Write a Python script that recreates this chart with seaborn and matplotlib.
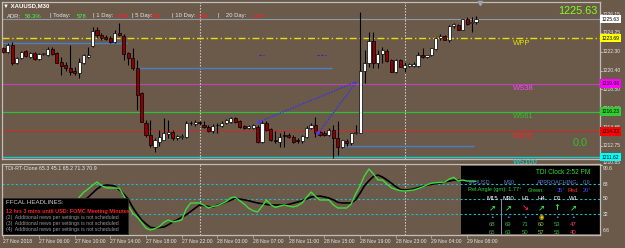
import matplotlib
matplotlib.use("Agg")
import matplotlib.pyplot as plt
import matplotlib.transforms as mtrans
from matplotlib.patches import Rectangle
import numpy as np
import seaborn as sns

# ==============================================
# Data
# ==============================================
opens = [1222.7, 1222.3, 1223.0, 1221.2, 1221.7, 1222.4, 1221.8, 1222.2, 1221.6, 1222.1,
         1222.0, 1222.6, 1222.2, 1221.3, 1221.0, 1220.7, 1220.4, 1220.2, 1221.2, 1221.8,
         1222.9, 1224.5, 1224.0, 1223.8, 1223.7, 1223.3, 1224.2, 1223.9, 1222.2, 1221.7,
         1220.7, 1218.1, 1215.1, 1213.9, 1212.6, 1213.1, 1213.4, 1214.0, 1214.2, 1213.6,
         1213.65, 1213.65, 1215.1, 1214.95, 1215.2, 1214.9, 1214.7, 1214.3, 1214.85, 1214.8,
         1215.1, 1215.2, 1215.6, 1215.3, 1214.8, 1214.6, 1214.6, 1214.7, 1213.1, 1215.1,
         1214.5, 1213.3, 1213.1, 1213.85, 1213.85, 1213.65, 1213.4, 1213.25, 1213.65, 1214.55,
         1214.85, 1214.15, 1214.05, 1213.85, 1214.35, 1213.55, 1212.6, 1213.25, 1213.05, 1214.05,
         1214.05, 1220.35, 1221.15, 1223.4, 1221.15, 1222.1, 1222.4, 1221.5, 1220.25, 1221.5,
         1220.65, 1220.9, 1220.9, 1220.9, 1222.0, 1221.8, 1222.0, 1222.6, 1223.7, 1223.9,
         1223.5, 1224.9, 1225.0, 1224.5, 1225.6, 1225.2, 1225.35]
highs = [1222.8, 1223.2, 1223.3, 1221.8, 1222.4, 1222.5, 1222.3, 1222.3, 1222.2, 1222.2,
         1222.8, 1222.8, 1222.3, 1221.8, 1221.3, 1223.0, 1220.8, 1221.7, 1222.1, 1222.8,
         1224.8, 1224.8, 1224.2, 1224.0, 1223.9, 1224.5, 1225.2, 1224.1, 1222.3, 1222.7,
         1221.5, 1218.2, 1215.4, 1215.4, 1213.6, 1214.4, 1215.6, 1215.4, 1214.4, 1213.9,
         1213.95, 1215.3, 1215.3, 1215.4, 1215.3, 1215.3, 1214.9, 1215.0, 1215.1, 1215.3,
         1215.5, 1215.7, 1215.7, 1215.4, 1214.9, 1214.9, 1215.0, 1214.9, 1215.3, 1215.3,
         1214.6, 1214.3, 1214.1, 1214.3, 1214.05, 1213.85, 1213.6, 1213.85, 1214.8, 1215.1,
         1215.7, 1214.25, 1214.25, 1214.55, 1214.9, 1215.3, 1213.35, 1213.45, 1214.05, 1214.85,
         1226.35, 1222.5, 1224.3, 1224.3, 1222.5, 1222.8, 1222.6, 1221.6, 1221.6, 1221.6,
         1221.3, 1221.2, 1221.3, 1222.3, 1222.7, 1222.0, 1222.7, 1223.8, 1224.1, 1224.0,
         1225.0, 1225.2, 1225.1, 1225.6, 1225.85, 1225.85, 1225.95]
lows = [1222.2, 1222.2, 1221.0, 1221.1, 1221.6, 1221.8, 1221.7, 1221.5, 1221.5, 1222.0,
        1221.9, 1222.0, 1221.2, 1220.0, 1220.4, 1219.95, 1220.0, 1219.6, 1221.1, 1221.7,
        1222.8, 1223.8, 1223.5, 1223.5, 1223.2, 1223.2, 1223.9, 1221.5, 1221.0, 1220.5,
        1216.4, 1215.2, 1213.7, 1212.6, 1212.1, 1212.7, 1213.3, 1213.6, 1213.3, 1213.4,
        1213.45, 1213.55, 1214.9, 1214.8, 1214.9, 1214.6, 1214.2, 1214.1, 1214.05, 1214.7,
        1215.0, 1215.1, 1215.1, 1214.6, 1214.5, 1214.5, 1214.5, 1213.0, 1213.0, 1214.3,
        1213.2, 1213.0, 1212.6, 1212.6, 1213.55, 1213.0, 1213.0, 1213.0, 1213.55, 1214.45,
        1213.65, 1213.75, 1213.75, 1213.75, 1211.5, 1211.8, 1212.5, 1212.7, 1212.85, 1213.95,
        1214.05, 1219.1, 1220.8, 1220.7, 1220.7, 1221.2, 1221.3, 1220.25, 1220.15, 1220.8,
        1220.25, 1220.8, 1220.8, 1220.8, 1221.7, 1221.7, 1221.9, 1222.5, 1223.5, 1223.5,
        1223.3, 1224.7, 1224.5, 1224.5, 1225.0, 1224.3, 1225.1]
closes = [1222.3, 1223.0, 1221.2, 1221.7, 1222.3, 1221.9, 1222.2, 1221.6, 1222.1, 1222.15,
          1222.6, 1222.1, 1221.2, 1220.9, 1220.7, 1220.3, 1220.2, 1221.3, 1222.0, 1222.0,
          1224.4, 1224.0, 1223.7, 1223.6, 1223.3, 1224.2, 1224.0, 1222.1, 1221.7, 1220.7,
          1217.9, 1215.2, 1213.9, 1212.8, 1213.3, 1213.7, 1214.1, 1214.2, 1213.6, 1213.75,
          1213.75, 1215.1, 1215.05, 1215.2, 1215.1, 1214.7, 1214.3, 1214.8, 1214.9, 1215.1,
          1215.4, 1215.6, 1215.2, 1214.7, 1214.6, 1214.8, 1214.9, 1213.1, 1215.1, 1214.4,
          1213.3, 1213.2, 1213.7, 1213.8, 1213.65, 1213.1, 1213.2, 1213.75, 1214.55, 1214.85,
          1214.05, 1213.85, 1213.85, 1214.35, 1213.55, 1212.6, 1213.35, 1213.05, 1214.05, 1214.15,
          1220.35, 1221.15, 1223.4, 1221.15, 1222.1, 1222.5, 1221.4, 1220.25, 1221.5, 1220.8,
          1221.0, 1221.05, 1221.05, 1222.0, 1221.8, 1222.0, 1222.7, 1223.7, 1223.9, 1223.5,
          1224.9, 1225.1, 1224.5, 1225.6, 1225.1, 1225.35, 1225.63]

# TDI sub-window: green price line and black signal line, one value per bar
tdi_green = [42, 40, 35, 33, 36, 40, 42, 41, 43, 44,
             46, 44, 40, 38, 36, 38, 44, 52, 58, 62,
             66.5, 70.4, 66, 63.5, 63.2, 63.2, 63.0, 54, 42, 33,
             28.4, 22, 15, 12.8, 14.5, 17, 22, 24.8, 22.4, 23.5,
             24.8, 38, 45.2, 45.2, 45.2, 42.5, 39.2, 41, 42, 44.5,
             47, 51.5, 52.4, 48, 44, 39, 36, 34.4, 41, 48.8,
             43, 40, 41.5, 42.8, 41.5, 40.4, 42, 45.2, 52, 58.4,
             53, 48.8, 48.8, 48.8, 43, 39.2, 39.2, 39.2, 44, 56,
             66, 78, 86, 80, 72.8, 72.8, 68, 63.5, 61.5, 60,
             59.6, 60.2, 60.8, 62.5, 64.4, 67, 69, 69.5, 70, 70.4,
             74, 76, 71.6, 72.8, 71.6, 71.5, 71.3]
tdi_black = [40, 39, 38, 36, 35, 36, 38, 40, 41, 42,
             43, 44, 43, 41, 39, 38, 40, 45, 48, 52,
             57, 62, 65.5, 66.8, 66.5, 65.6, 61, 56, 50, 40,
             32, 25, 20, 16, 15.2, 15.8, 16.4, 19, 22.4, 25,
             28, 31, 35, 39, 42.8, 42, 41, 40.4, 42.5, 44.5,
             46.4, 48.5, 51, 50, 49, 48, 46.5, 45.2, 44.5, 43.5,
             42.8, 42.8, 42.8, 42.8, 43.5, 45, 46.4, 48, 50, 52.4,
             53, 53.6, 52.5, 51.2, 49, 46, 45.2, 45.2, 45.2, 49,
             57, 66, 72, 77, 78.8, 76.4, 73, 69, 65, 61.5,
             60.8, 61.2, 62, 63.5, 65, 66.5, 67.5, 68.5, 69.2, 70.5,
             71.6, 72.5, 72.5, 71.6, 71.3, 71.2, 71]
tdi_levels = [68, 50, 32]
tdi_tick_labels = ["90.6", "68", "50", "32", "6.6"]
tdi_tick_spots = [86, 68, 50, 32, 11.6]   # where MT4 prints the scale labels

# weekly pivot levels
level_names = ["WPP", "WS38", "WS61", "WS78", "WS100"]
level_prices = [1223.69, 1219.08, 1216.23, 1214.23, 1211.62]
level_line_colors = ["#e6e000", "#c040c0", "#32c032", "#d02828", "#20c8c8"]
level_text_colors = ["#e6e000", "#ff40ff", "#32c032", "#ff2020", "#20d8d8"]
level_box_colors = ["#ffff00", "#ff00ff", "#32cd32", "#ff0000", "#00ffff"]
bid_price = 1225.63
price_ticks = [1226.15, 1224.25, 1222.30, 1220.40, 1218.50, 1216.60, 1214.65, 1212.75, 1210.85]

# other chart objects (bar index, price)
segment_prices = [1223.23, 1220.66, 1212.74]
segment_starts = [0, 30, 76.2]
segment_ends = [27.7, 73.7, 105.5]
trend_starts = [(57.4, 1215.21), (70.6, 1214.03)]
trend_end = (79.2, 1219.27)
dash_marks = [(57.3, 58.4, 1221.98), (70.3, 72.3, 1221.98)]

time_labels = ["27 Nov 2018", "27 Nov 06:00", "27 Nov 10:00", "27 Nov 14:00", "27 Nov 18:00",
               "27 Nov 22:00", "28 Nov 03:00", "28 Nov 07:00", "28 Nov 11:00", "28 Nov 15:00",
               "28 Nov 19:00", "28 Nov 23:00", "29 Nov 04:00", "29 Nov 08:00"]
time_label_bars = [0, 8, 16, 24, 32, 40, 48, 56, 64, 72, 80, 88, 96, 104]
day_separators = [44, 90]

# ==============================================
# Figure setup
# ==============================================
BG = "#6b5a4a"
FG = "#e6e6e6"
W, H = 625, 248

sns.set_theme(style="dark", rc={"axes.facecolor": BG, "figure.facecolor": BG})
plt.rcParams["font.family"] = ["Liberation Sans", "DejaVu Sans"]

fig = plt.figure(figsize=(W / 100, H / 100), dpi=100)


def fx(x):
    return x / W


def fy(y):
    return 1 - y / H


def px_axes(x0, y0, x1, y1):
    return fig.add_axes([fx(x0), fy(y1), (x1 - x0) / W, (y1 - y0) / H])


ax = px_axes(2, 2, 600, 159)
ax2 = px_axes(2, 164, 600, 235)
ax.set_zorder(2)   # pivot labels of the price window may spill over the gap
xlim = (-0.3, 133.8)
for a in (ax, ax2):
    a.set_facecolor(BG)
    a.set_xlim(*xlim)
    for s in a.spines.values():
        s.set_color("#bdbdbd")
        s.set_linewidth(0.9)
    a.grid(False)

bars = np.arange(len(opens))
o = np.array(opens)
c = np.array(closes)

# ==============================================
# Main price window
# ==============================================
ax.set_ylim(1211.42, 1227.37)
ax.set_xticks([])
ax.set_yticks([])

ax.axhline(bid_price, color="#8a98a8", lw=0.8, zorder=1)
dash_styles = [(0, (5, 2, 1, 2)), "-", "-", "-", "-"]
widths = [1.0, 0.8, 0.9, 0.7, 1.0]
ltrans = mtrans.blended_transform_factory(ax.transAxes, ax.transData)
for name, p, lc, tc, ls, lw in zip(level_names, level_prices, level_line_colors,
                                    level_text_colors, dash_styles, widths):
    ax.axhline(p, color=lc, ls=ls, lw=lw, zorder=1)
    ax.text(0.8545, p - 0.15, name, color=tc, fontsize=5.5, va="top", ha="left",
            transform=ltrans, clip_on=False, zorder=6)

for p, x0, x1 in zip(segment_prices, segment_starts, segment_ends):
    ax.hlines(p, x0, x1, color="#4a7ec8", lw=1.0, zorder=1.5)
for x0, x1, p in dash_marks:
    ax.hlines(p, x0, x1, color="#2828c8", lw=0.8, ls=(0, (2, 1.5)), zorder=1.5)
for sx, sp in trend_starts:
    ax.plot([sx, trend_end[0]], [sp, trend_end[1]], color="#3030ff", lw=1.0,
            ls=(0, (1, 1)), zorder=5)
    ax.plot(sx, sp, marker="+", color="#4040ff", ms=3.5, mew=1.2, zorder=6)

for d in day_separators:
    for a in (ax, ax2):
        a.axvline(d, color="#d8d8d8", lw=0.8, ls=(0, (1.2, 1.5)), zorder=1.2)

# candles
body_low = np.minimum(o, c)
body_h = np.maximum(np.abs(c - o), 0.03)
ax.vlines(bars, lows, highs, color="black", lw=0.8, zorder=3)
ax.bar(bars, body_h, bottom=body_low, width=0.7,
       color=np.where(c >= o, "white", "#8b0000"), edgecolor="black",
       linewidth=0.5, zorder=4)

# chart shift marker
ax.plot(107, 1227.3, marker="v", color="#9aa4b0", ms=3, clip_on=False, zorder=6)

# right price scale
ptrans = mtrans.blended_transform_factory(ax.transAxes, ax.transData)
for p in price_ticks:
    va = "bottom" if p < 1211.42 else "center"
    ax.text(1.004, p, f"{p:.2f}", color=FG, fontsize=3.6, va=va, ha="left",
            transform=ptrans, clip_on=False)
    ax.plot([1.0, 1.003], [p, p], color=FG, lw=0.5, transform=ptrans, clip_on=False)
box_prices = [bid_price] + level_prices
box_colors = ["#ffffff"] + level_box_colors
for p, bc in zip(box_prices, box_colors):
    ax.text(1.0025, p, f"{p:.2f}", color="black", fontsize=3.6, va="center", ha="left",
            transform=ptrans, clip_on=False, zorder=7,
            bbox=dict(boxstyle="square,pad=0.35", fc=bc, ec="none"))

# header texts
fig.text(fx(3), fy(6), "\u25bc XAUUSD,M30", color="white", fontsize=4.3,
         fontweight="bold", va="center", ha="left")
header_x = [7, 25, 50, 77, 93, 116, 132, 152, 172, 199, 217, 226, 253]
header_txt = ["ADR:", "56.3%", "| Today:", "578", "| 1 Day:", "1538", "| 5 Day:", "951",
              "| 10 Day:", "946", "|", "20 Day:", "1107"]
header_col = [FG, "#40ff40", FG, "#40ff40", FG, "#ff2020", FG, "#ff2020",
              FG, "#ff2020", FG, FG, "#ff2020"]
for x, t, col in zip(header_x, header_txt, header_col):
    fig.text(fx(x), fy(16), t, color=col, fontsize=4.2, va="center", ha="left")

fig.text(fx(598), fy(11.5), f"{bid_price:.2f}", color="#80ff20", fontsize=7.8,
         va="center", ha="right")
fig.text(fx(573), fy(143.5), "0.0", color="#30c030", fontsize=7.8, va="center", ha="left")

# ==============================================
# TDI sub-window
# ==============================================
ax2.set_ylim(6.8, 92)
ax2.set_yticks([])
for lv in tdi_levels:
    ax2.axhline(lv, color="#22b8c8", lw=0.8, ls=(0, (2, 2)), zorder=1.2)

ax2.add_patch(Rectangle((fx(461), fy(234)), 139 / W, 68 / H, transform=fig.transFigure,
                        fc="black", ec="none", zorder=1))
sns.lineplot(x=bars, y=tdi_black, color="black", lw=1.2, ax=ax2, zorder=2.5)
sns.lineplot(x=bars, y=tdi_green, color="#3cdc3c", lw=1.0, ax=ax2, zorder=2.6)
ax2.set_xlabel("")
ax2.set_ylabel("")
ax2.add_patch(Rectangle((fx(3), fy(234)), 125 / W, 36 / H, transform=fig.transFigure,
                        fc="black", ec="#2a2a2a", lw=0.6, zorder=5))

ax2.set_xticks(time_label_bars)
ax2.set_xticklabels(time_labels, ha="left", fontsize=3.7, color=FG)
ax2.tick_params(axis="x", length=2, width=0.5, color="#bdbdbd", pad=1.2, bottom=True)

ttrans = mtrans.blended_transform_factory(ax2.transAxes, ax2.transData)
for lab, v in zip(tdi_tick_labels, tdi_tick_spots):
    ax2.text(1.004, v, lab, color=FG, fontsize=3.6, va="center", ha="left",
             transform=ttrans, clip_on=False)

fig.text(fx(5), fy(169), "TDI-RT-Clone 65.3 45.1 65.2 71.3 70.9", color=FG,
         fontsize=3.8, va="center", ha="left")

# FFCAL headline box
ff_lines = ["FFCAL HEADLINES:",
            "12 hrs 3 mins until USD: FOMC Meeting Minutes",
            "(2)  Additional news per settings is not scheduled",
            "(3)  Additional news per settings is not scheduled",
            "(4)  Additional news per settings is not scheduled"]
ff_y = [203, 211, 218, 224, 230]
ff_col = ["#d0d0d0", "#ff2020", "#9a9a9a", "#9a9a9a", "#9a9a9a"]
ff_size = [4.4, 3.9, 3.7, 3.7, 3.7]
ff_weight = ["normal", "bold", "normal", "normal", "normal"]
for t, y, col, fs, fw in zip(ff_lines, ff_y, ff_col, ff_size, ff_weight):
    fig.text(fx(6), fy(y), t, color=col, fontsize=fs, fontweight=fw, va="center",
             ha="left", zorder=8)

# TDI clock box
fig.text(fx(536), fy(173), "TDI Clock 2:52 PM", color="#32dc32", fontsize=4.7,
         va="center", ha="left", zorder=8)
clock_row = [(468, 182, "XAUUSD", "#5a7ed0"), (503, 182, "M30", "#5a7ed0"),
             (537, 182, "APPROACHING:", "#5a7ed0"), (583, 182, "0.9", "#5a7ed0"),
             (468, 190, "Rel.Angle (grn): 1.77\u00b0", "#32dc32"),
             (528, 190, "Green:", "#32dc32"), (557, 190, "35\u00b0", "#4848ff"),
             (567, 190, "Red:", "#ff3030"), (583, 190, "20\u00b0", "#4848ff")]
for x, y, t, col in clock_row:
    fig.text(fx(x), fy(y), t, color=col, fontsize=4.0, va="center", ha="left", zorder=8)

tf_names = ["M15", "M30", "H1", "H4", "D1", "W1"]
tf_x = [492, 508, 525, 541, 557, 573]
tf_arrows = ["\u2197", "\u2197", "\u2198", "\u2197", "\u2191", "\u2197"]
tf_arrow_col = ["#32dc32", "#32dc32", "#ff2050", "#32dc32", "#32dc32", "#32dc32"]
tf_dot = ["\u2022", "\u2022", "\u2022", "\u25c9", "\u2022", "\u2022"]
tf_dot_col = ["#6a8cff", "#6a8cff", "#6a8cff", "#ffd700", "#6a8cff", "#6a8cff"]
tf_val1 = ["68", "69", "71", "60", "53", "47"]
tf_val1_col = ["#4f9a4f", "#32b432", "#32b432", "#8cc83c", "#32b432", "#ff4060"]
tf_val2 = ["65", "63", "50", "57", "55", "40"]
tf_val2_col = ["#4f9a4f", "#32b432", "#32b432", "#8cc83c", "#32b432", "#ff4060"]
for i, x in enumerate(tf_x):
    fig.text(fx(x), fy(198), tf_names[i], color="white", fontsize=4.3, va="center",
             ha="center", zorder=8)
    fig.text(fx(x), fy(208), tf_arrows[i], color=tf_arrow_col[i], fontsize=6,
             fontweight="bold", va="center", ha="center", zorder=8,
             family=["DejaVu Sans"])
    fig.text(fx(x), fy(217), tf_dot[i], color=tf_dot_col[i], fontsize=4.5, va="center",
             ha="center", zorder=8, family=["DejaVu Sans"])
    fig.text(fx(x), fy(225), tf_val1[i], color=tf_val1_col[i], fontsize=4.3, va="center",
             ha="center", zorder=8)
    t2 = ax2.text(fx(x), fy(232.5), tf_val2[i], color=tf_val2_col[i], fontsize=4.3,
                  va="center", ha="center", zorder=8, transform=fig.transFigure)
    t2.set_clip_on(True)
ax2.plot([fx(501), fx(501)], [fy(199), fy(234)], color="#90a8c8", lw=0.6,
         transform=fig.transFigure, zorder=7)

fig.savefig("out.png", dpi=100, facecolor=BG)
